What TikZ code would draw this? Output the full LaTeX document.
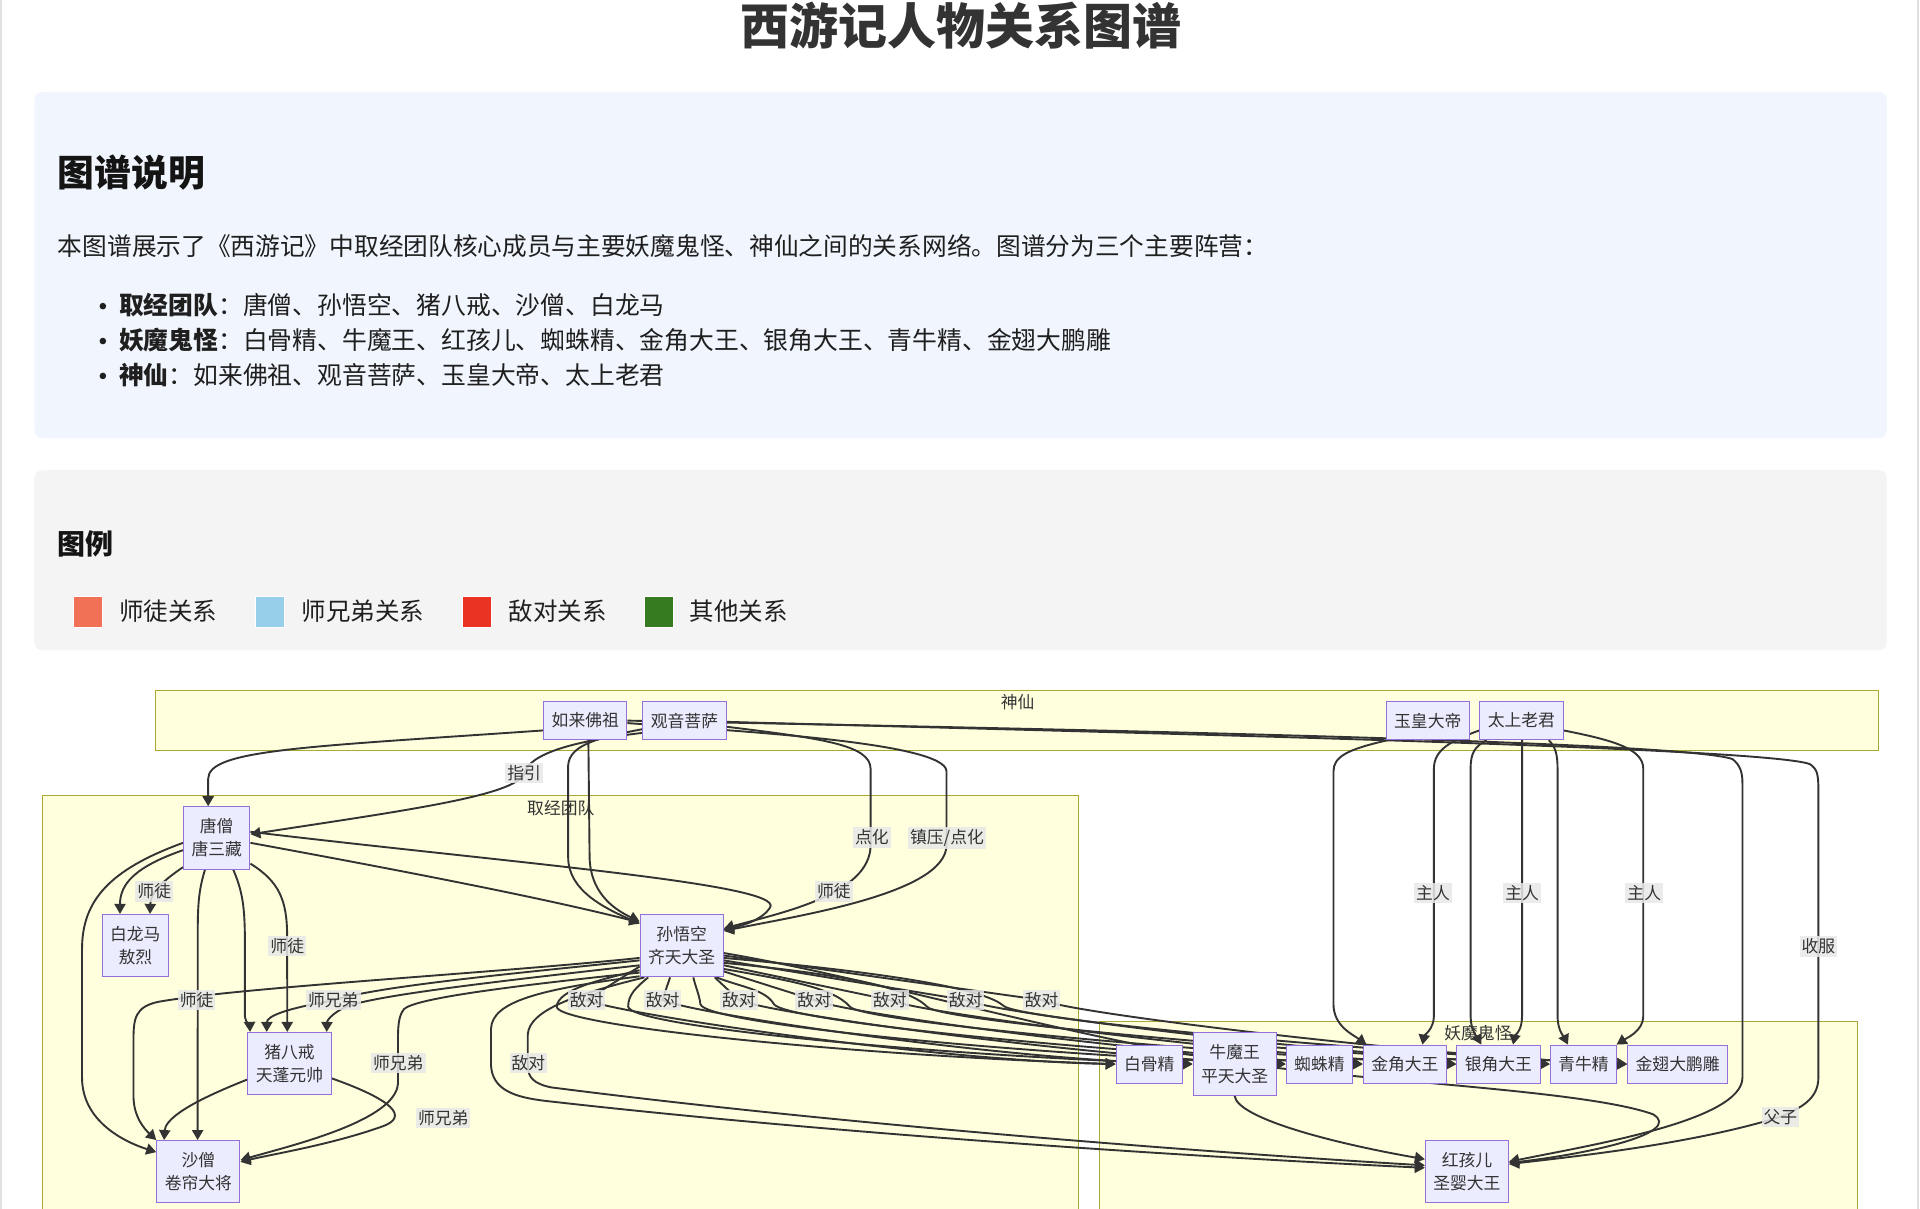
\documentclass[tikz,border=0pt]{standalone}
\usepackage{fontspec}
\setmainfont{Noto Sans CJK SC}
\usetikzlibrary{arrows.meta,calc}
\definecolor{txt}{HTML}{333333}
\definecolor{ndfill}{HTML}{ECECFF}
\definecolor{ndline}{HTML}{9370DB}
\definecolor{grpfill}{HTML}{FFFFDE}
\definecolor{grpline}{HTML}{AAAA33}
\definecolor{lblbg}{HTML}{E8E8E8}
\definecolor{descbg}{HTML}{F1F6FE}
\definecolor{legbg}{HTML}{F4F4F4}
\definecolor{cteach}{HTML}{F07156}
\definecolor{cbro}{HTML}{97CFEA}
\definecolor{cfoe}{HTML}{EA3323}
\definecolor{cother}{HTML}{367B20}
\pgfdeclarelayer{back}
\pgfdeclarelayer{lines}
\pgfsetlayers{back,lines,main}
\tikzset{
  person/.style={draw=ndline, fill=ndfill, text=txt, line width=0.5pt, inner xsep=4pt, inner ysep=2pt,
    minimum height=19pt, align=center, font=\fontsize{8.4pt}{11.6pt}\selectfont},
  twoline/.style={person, minimum height=31.2pt},
  group/.style={draw=grpline, fill=grpfill, line width=0.5pt},
  grouptitle/.style={text=txt, inner sep=0pt, font=\fontsize{8.4pt}{10pt}\selectfont},
  rel/.style={draw=txt, line width=0.95pt, ->, >={Triangle[length=5pt,width=5.6pt]}},
  rellabel/.style={fill=lblbg, fill opacity=0.85, text opacity=1, text=txt, inner xsep=1pt, inner ysep=1.2pt,
    font=\fontsize{8.4pt}{10pt}\selectfont},
  body/.style={anchor=west, inner sep=0pt, text=black!88, font=\fontsize{12.4pt}{15pt}\selectfont},
  bullet/.style={circle, fill=black!88, inner sep=0pt, minimum size=3.3pt},
  swatch/.style={minimum width=14.7pt, minimum height=15.3pt, inner sep=0pt, draw=white, line width=0.4pt},
}

\begin{document}
\begin{tikzpicture}[x=0.6123pt, y=-0.6123pt]
  \useasboundingbox (0,0) rectangle (1568,987);
  \begin{pgfonlayer}{back}
    \fill[white] (0,0) rectangle (1568,987);
    \draw[black!12, line width=1pt] (1,0) -- (1,987);
    \draw[black!12, line width=1pt] (1566.5,0) -- (1566.5,987);
    \fill[descbg, rounded corners=4pt] (28,75) rectangle (1541,358);
    \fill[legbg, rounded corners=4pt] (28,384) rectangle (1541,531);
  \end{pgfonlayer}

  % header
  \node[text=txt, font=\fontsize{24.5pt}{28pt}\selectfont\bfseries] (title) at (785,21) {西游记人物关系图谱};
  \node[body, font=\fontsize{18.4pt}{22pt}\selectfont\bfseries, text=black!92] (desc) at (47,141) {图谱说明};
  \node[body, font=\fontsize{12.35pt}{15pt}\selectfont] (intro) at (47,201) {本图谱展示了《西游记》中取经团队核心成员与主要妖魔鬼怪、神仙之间的关系网络。图谱分为三个主要阵营：};
  \node[bullet] (dot1) at (84,250) {};
  \node[body] (team) at (97,249) {{\bfseries 取经团队}：唐僧、孙悟空、猪八戒、沙僧、白龙马};
  \node[bullet] (dot2) at (84,278.5) {};
  \node[body] (demons) at (97,277.5) {{\bfseries 妖魔鬼怪}：白骨精、牛魔王、红孩儿、蜘蛛精、金角大王、银角大王、青牛精、金翅大鹏雕};
  \node[bullet] (dot3) at (84,307) {};
  \node[body] (gods) at (97,306) {{\bfseries 神仙}：如来佛祖、观音菩萨、玉皇大帝、太上老君};

  % legend
  \node[body, font=\fontsize{14pt}{17pt}\selectfont\bfseries, text=black!92] (leg) at (47,444) {图例};
  \node[swatch, fill=cteach] (sw1) at (72,499.5) {};
  \node[body, font=\fontsize{12.25pt}{15pt}\selectfont] (lg1) at (97,499) {师徒关系};
  \node[swatch, fill=cbro] (sw2) at (220.5,499.5) {};
  \node[body, font=\fontsize{12.25pt}{15pt}\selectfont] (lg2) at (246,499) {师兄弟关系};
  \node[swatch, fill=cfoe] (sw3) at (389.5,499.5) {};
  \node[body, font=\fontsize{12.25pt}{15pt}\selectfont] (lg3) at (415,499) {敌对关系};
  \node[swatch, fill=cother] (sw4) at (538,499.5) {};
  \node[body, font=\fontsize{12.25pt}{15pt}\selectfont] (lg4) at (563,499) {其他关系};

  % groups
  \begin{pgfonlayer}{back}
    \draw[group] (127,564) rectangle (1534,613);
    \draw[group] (34.5,650) rectangle (881,1010);
    \draw[group] (898,834.5) rectangle (1517,1010);
    \node[grouptitle] (gshen) at (831,573) {神仙};
    \node[grouptitle] (gteam) at (458,660) {取经团队};
    \node[grouptitle] (gyao) at (1207,844) {妖魔鬼怪};
  \end{pgfonlayer}

  % people
  \node[person] (rulai) at (478,588.5) {如来佛祖};
  \node[person] (guanyin) at (559,588.5) {观音菩萨};
  \node[person] (yuhuang) at (1166,588.5) {玉皇大帝};
  \node[person] (laojun) at (1242.5,588.5) {太上老君};
  \node[twoline] (tangseng) at (177,684.3) {唐僧\\唐三藏};
  \node[twoline] (bailong) at (110.5,772.2) {白龙马\\敖烈};
  \node[twoline] (wukong) at (556.7,772.3) {孙悟空\\齐天大圣};
  \node[twoline] (bajie) at (236.4,868.6) {猪八戒\\天蓬元帅};
  \node[twoline] (shaseng) at (162,956.9) {沙僧\\卷帘大将};
  \node[person] (baigu) at (938.6,869) {白骨精};
  \node[twoline] (niumo) at (1008.3,869) {牛魔王\\平天大圣};
  \node[person] (zhizhu) at (1077.5,869) {蜘蛛精};
  \node[person] (jinjiao) at (1147.3,869) {金角大王};
  \node[person] (yinjiao) at (1223.7,869) {银角大王};
  \node[person] (qingniu) at (1293.2,869) {青牛精};
  \node[person] (dapeng) at (1370.1,869) {金翅大鹏雕};
  \node[twoline] (honghai) at (1198,956.7) {红孩儿\\圣婴大王};

  \begin{pgfonlayer}{lines}
    % gods to the team
    \draw[rel] ($(rulai.west)+(0,8)$) .. controls (250,610) and (170,612) .. (170,636) -- ($(tangseng.north)+(-7,0)$);
    \draw[rel] ($(guanyin.west)+(0,10)$) .. controls (470,605) and (432,615) .. (428,632) .. controls (420,650) and (330,662) .. ($(tangseng.east)+(0,-3)$);
    \draw[rel] ($(rulai.south)+(2.5,0)$) -- (481.5,700) .. controls (482,728) and (500,742) .. ($(wukong.north west)+(0,6)$);
    \draw[rel] ($(guanyin.west)+(0,7)$) .. controls (490,602) and (465,608) .. (464,625) -- (464,700) .. controls (464,728) and (495,742) .. ($(wukong.north west)+(0,8)$);
    \draw[rel] ($(guanyin.east)+(0,5)$) .. controls (670,603) and (711,608) .. (711,628) -- (711,690) .. controls (711,730) and (640,745) .. ($(wukong.east)+(0,-14)$);
    \draw[rel] ($(rulai.east)+(0,2)$) .. controls (600,597) and (773,606) .. (773,630) -- (773,690) .. controls (773,730) and (650,748) .. ($(wukong.east)+(0,-12)$);

    % team
    \draw[rel] ($(tangseng.east)+(0,-5)$) .. controls (420,705) and (640,722) .. (629,741) .. controls (622,752) and (605,756) .. ($(wukong.east)+(0,-13)$);
    \draw[rel] ($(tangseng.east)+(0,4)$) .. controls (350,715) and (450,735) .. ($(wukong.west)+(0,-19)$);
    \draw[rel] ($(tangseng.west)+(0,4)$) .. controls (90,710) and (67,735) .. (67,775) -- (67,880) .. controls (67,915) and (100,932) .. ($(shaseng.west)+(0,-16)$);
    \draw[rel] ($(tangseng.west)+(0,10)$) .. controls (110,708) and (98,722) .. ($(bailong.north)+(-12.5,0)$);
    \draw[rel] ($(tangseng.south west)+(0,-2)$) .. controls (135,718) and (123,728) .. ($(bailong.north)+(12,0)$);
    \draw[rel] ($(tangseng.south)+(-9.6,0)$) .. controls (163,725) and (161.5,735) .. (161.5,760) -- ($(shaseng.north)+(-0.6,0)$);
    \draw[rel] ($(tangseng.south)+(13.5,0)$) .. controls (198,728) and (200,740) .. (200,770) -- (200,830) .. controls (201,836) and (204,838) .. ($(bajie.north west)+(2.2,0)$);
    \draw[rel] ($(tangseng.east)+(0,21)$) .. controls (228,720) and (234.5,735) .. (234.5,765) -- ($(bajie.north)+(-1.8,0)$);
    \draw[rel] ($(wukong.west)+(0,10)$) .. controls (400,795) and (200,806) .. (130,818) .. controls (110,822) and (109,832) .. (109,850) -- (109,895) .. controls (109,912) and (118,922) .. (shaseng.north west);
    \draw[rel] ($(wukong.west)+(0,12)$) .. controls (420,795) and (310,805) .. (272,817) .. controls (232,824) and (218,830) .. ($(bajie.north)+(-18.6,0)$);
    \draw[rel] ($(wukong.west)+(0,16)$) .. controls (420,800) and (310,812) .. (283,822) .. controls (270,828) and (267,834) .. ($(bajie.north)+(30.4,0)$);
    \draw[rel] ($(wukong.west)+(0,22)$) .. controls (420,805) and (340,815) .. (330,824) .. controls (325,830) and (325,840) .. (325,852) -- (325,885) .. controls (323,915) and (240,935) .. ($(shaseng.east)+(0,-9.5)$);
    \draw[rel] ($(bajie.west)+(0,13)$) .. controls (150,902) and (135,915) .. ($(shaseng.north)+(-28,0)$);
    \draw[rel] ($(bajie.east)+(0,12)$) .. controls (320,898) and (335,912) .. (312,920) .. controls (270,935) and (220,943) .. ($(shaseng.east)+(0,-8)$);

    % wukong against the demons
    \draw[rel] ($(wukong.west)+(0,17)$) -- (479,816.7) .. controls (505,828) and (760,866) .. (baigu.west);
    \draw[rel] ($(wukong.south)+(-9.5,0)$) -- (541,816.7) .. controls (566,828) and (820,866) .. (niumo.west);
    \draw[rel] ($(wukong.south)+(27,0)$) -- (603.5,816.7) .. controls (628,828) and (900,865) .. (zhizhu.west);
    \draw[rel] ($(wukong.east)+(0,21)$) -- (665,816.7) .. controls (690,828) and (960,864) .. (jinjiao.west);
    \draw[rel] ($(wukong.east)+(0,16)$) -- (726.8,816.7) .. controls (752,828) and (1040,864) .. (yinjiao.west);
    \draw[rel] ($(wukong.east)+(0,12)$) -- (788.6,816.7) .. controls (812,828) and (1110,864) .. (qingniu.west);
    \draw[rel] ($(wukong.east)+(0,8)$) -- (850.7,816.7) .. controls (875,828) and (1180,864) .. (dapeng.west);
    \draw[rel] ($(wukong.west)+(0,20)$) .. controls (490,800) and (456,808) .. (454.6,822) .. controls (454,838) and (700,862) .. (baigu.west);
    \draw[rel] ($(wukong.south west)+(7,0)$) .. controls (520,806) and (513,812) .. (513,822) .. controls (513,838) and (760,862) .. (niumo.west);
    \draw[rel] ($(wukong.south)+(9.5,0)$) .. controls (568,806) and (571,812) .. (572,820) .. controls (574,836) and (830,861) .. (zhizhu.west);
    \draw[rel] ($(wukong.south east)+(-6,0)$) .. controls (605,806) and (625,808) .. (632,820) .. controls (640,834) and (900,860) .. (jinjiao.west);
    \draw[rel] ($(wukong.east)+(0,19)$) .. controls (640,800) and (680,806) .. (694,822) .. controls (702,834) and (980,860) .. (yinjiao.west);
    \draw[rel] ($(wukong.east)+(0,14)$) .. controls (680,795) and (740,805) .. (757,822) .. controls (765,834) and (1060,860) .. (qingniu.west);
    \draw[rel] ($(wukong.east)+(0,10)$) .. controls (700,792) and (800,805) .. (819,821) .. controls (828,833) and (1130,860) .. (dapeng.west);

    % red boy
    \draw[rel] ($(wukong.west)+(0,25)$) .. controls (440,808) and (402,818) .. (401,840) -- (401,870) .. controls (402,890) and (420,896) .. (445,899) .. controls (700,928) and (1000,946) .. ($(honghai.west)+(0,-3)$);
    \draw[rel] ($(wukong.south west)+(4,0)$) .. controls (470,812) and (432,825) .. (431,845) -- (431,870) .. controls (431,880) and (436,885) .. (450,888) .. controls (700,920) and (1000,942) .. ($(honghai.west)+(0,-5)$);
    \draw[rel] ($(wukong.east)+(0,6)$) .. controls (720,800) and (900,855) .. (1042,872) .. controls (1150,885) and (1300,892) .. (1350,910) .. controls (1375,925) and (1300,942) .. ($(honghai.east)+(0,-7)$);
    \draw[rel] (niumo.south) .. controls (1010,912) and (1080,932) .. ($(honghai.west)+(0,-10)$);
    \draw[rel] (rulai.east) .. controls (900,596) and (1380,606) .. (1415,620) .. controls (1421,625) and (1423,630) .. (1423,640) -- (1423,880) .. controls (1423,915) and (1300,935) .. ($(honghai.east)+(0,-8)$);
    \draw[rel] ($(guanyin.east)+(0,1)$) .. controls (900,598) and (1440,610) .. (1478,624) .. controls (1484,628) and (1485,632) .. (1485,645) -- (1485,880) .. controls (1485,898) and (1470,905) .. (1454,912) .. controls (1380,935) and (1280,945) .. ($(honghai.east)+(0,-6)$);

    % masters of the demons
    \draw[rel] ($(yuhuang.south west)+(2,0)$) .. controls (1100,612) and (1089,618) .. (1089,630) -- (1089,820) .. controls (1089,838) and (1105,845) .. ($(jinjiao.north west)+(3,0)$);
    \draw[rel] ($(laojun.west)+(0,8)$) .. controls (1185,605) and (1171,612) .. (1171,628) -- (1171,830) .. controls (1171,840) and (1163,846) .. ($(jinjiao.north)+(14.4,0)$);
    \draw[rel] ($(laojun.south west)+(6,0)$) .. controls (1204,610) and (1201,615) .. (1201,628) -- (1201,830) .. controls (1201,842) and (1207,848) .. ($(yinjiao.north)+(-14,0)$);
    \draw[rel] ($(laojun.south)+(0.5,0)$) -- (1243,830) .. controls (1243,842) and (1237,846) .. ($(yinjiao.north)+(12,0)$);
    \draw[rel] ($(laojun.south east)+(-12,0)$) .. controls (1270,610) and (1272,615) .. (1272,628) -- (1272,830) .. controls (1272,842) and (1278,848) .. ($(qingniu.north)+(-12.7,0)$);
    \draw[rel] ($(laojun.east)+(0,8)$) .. controls (1320,605) and (1342,612) .. (1342,628) -- (1342,830) .. controls (1342,842) and (1328,848) .. ($(qingniu.north east)+(-0.5,0)$);

    % edge labels
    \node[rellabel] (lzhiyin) at (428,631.5) {指引};
    \node[rellabel] (ldianhua) at (712,684) {点化};
    \node[rellabel] (lzhenya) at (773.4,684) {镇压/点化};
    \node[rellabel] (lst1) at (681,728) {师徒};
    \node[rellabel] (lst2) at (126,728) {师徒};
    \node[rellabel] (lst3) at (234.6,772.5) {师徒};
    \node[rellabel] (lst4) at (160.6,816.7) {师徒};
    \node[rellabel] (lsx1) at (272.2,816.7) {师兄弟};
    \node[rellabel] (lsx2) at (325.3,868.4) {师兄弟};
    \node[rellabel] (lsx3) at (362,913) {师兄弟};
    \node[rellabel] (ld1) at (479.1,816.7) {敌对};
    \node[rellabel] (ld2) at (541.2,816.7) {敌对};
    \node[rellabel] (ld3) at (603.5,816.7) {敌对};
    \node[rellabel] (ld4) at (665,816.7) {敌对};
    \node[rellabel] (ld5) at (726.8,816.7) {敌对};
    \node[rellabel] (ld6) at (788.6,816.7) {敌对};
    \node[rellabel] (ld7) at (850.7,816.7) {敌对};
    \node[rellabel] (ld8) at (431.5,868.4) {敌对};
    \node[rellabel] (lzr1) at (1170.3,729) {主人};
    \node[rellabel] (lzr2) at (1243,729) {主人};
    \node[rellabel] (lzr3) at (1342.8,729) {主人};
    \node[rellabel] (lshoufu) at (1485,773) {收服};
    \node[rellabel] (lfuzi) at (1454,912) {父子};
  \end{pgfonlayer}
\end{tikzpicture}
\end{document}
